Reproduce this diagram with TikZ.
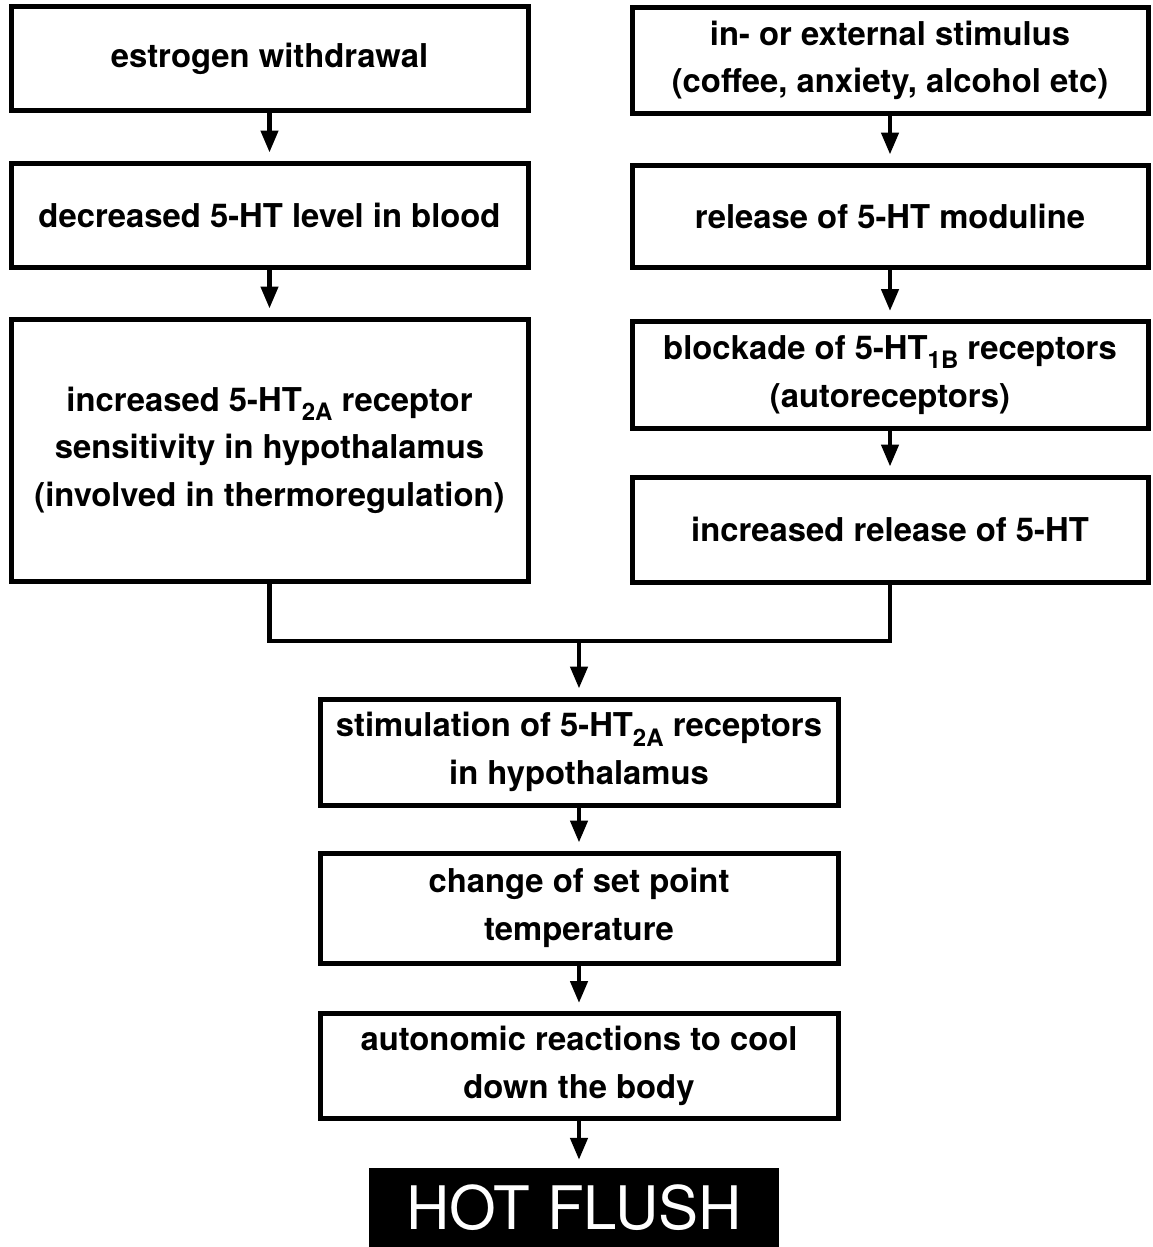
\documentclass[tikz,border=0pt]{standalone}
\usepackage{fontspec}
\setmainfont{TeX Gyre Heros}
\usetikzlibrary{arrows.meta}
\newcommand{\mysub}[1]{\raisebox{-0.28em}{\fontsize{24}{24}\selectfont #1}}
\begin{document}
\begin{tikzpicture}[x=1pt,y=-1pt,
  box/.style={draw, line width=5pt, inner sep=0pt, align=center,
    font=\fontsize{32.8}{47.5}\selectfont\bfseries},
  lbox/.style={box, minimum width=517pt},
  rbox/.style={box, minimum width=516pt},
  cbox/.style={box, minimum width=518pt},
  conn/.style={line width=4.5pt},
  arr/.style={line width=4.5pt, -{Triangle[width=17pt,length=22pt]}, shorten >=8pt},
]
\useasboundingbox (0,0) rectangle (1152,1247);

% left column
\node[lbox, minimum height=103pt] (l1) at (269.5,58.5) {estrogen withdrawal};
\node[lbox, minimum height=104pt] (l2) at (269.5,215) {decreased 5-HT level in blood};
\node[lbox, minimum height=262pt] (l3) at (269.5,450) {increased 5-HT\mysub{2A} receptor\\sensitivity in hypothalamus\\(involved in thermoregulation)};

% right column
\node[rbox, minimum height=105pt] (r1) at (890,60.5) {in- or external stimulus\\(coffee, anxiety, alcohol etc)};
\node[rbox, minimum height=102pt] (r2) at (890,216) {release of 5-HT moduline};
\node[rbox, minimum height=107pt] (r3) at (890,375) {blockade of 5-HT\mysub{1B} receptors\\(autoreceptors)};
\node[rbox, minimum height=105pt] (r4) at (890,529.5) {increased release of 5-HT};

% centre column
\coordinate (j) at (579,641);
\node[cbox, minimum height=106pt] (c1) at (579,752) {stimulation of 5-HT\mysub{2A} receptors\\in hypothalamus};
\node[cbox, minimum height=110pt] (c2) at (579,908) {change of set point\\temperature};
\node[cbox, minimum height=105pt] (c3) at (579,1066) {autonomic reactions to cool\\down the body};
\node[fill=black, text=white, minimum width=410pt, minimum height=80pt, inner sep=0pt,
  font=\fontsize{60}{60}\selectfont] (hot) at (574,1208) {HOT FLUSH};

% connectors
\draw[arr] (l1) -- (l2);
\draw[arr] (l2) -- (l3);
\draw[arr] (r1) -- (r2);
\draw[arr] (r2) -- (r3);
\draw[arr] (r3) -- (r4);
\draw[conn] (l3.south) |- (j) -| (r4.south);
\draw[arr] (j) -- (c1.north);
\draw[arr] (c1) -- (c2);
\draw[arr] (c2) -- (c3);
\draw[arr] (c3.south) -- (c3.south |- hot.north);
\end{tikzpicture}
\end{document}
